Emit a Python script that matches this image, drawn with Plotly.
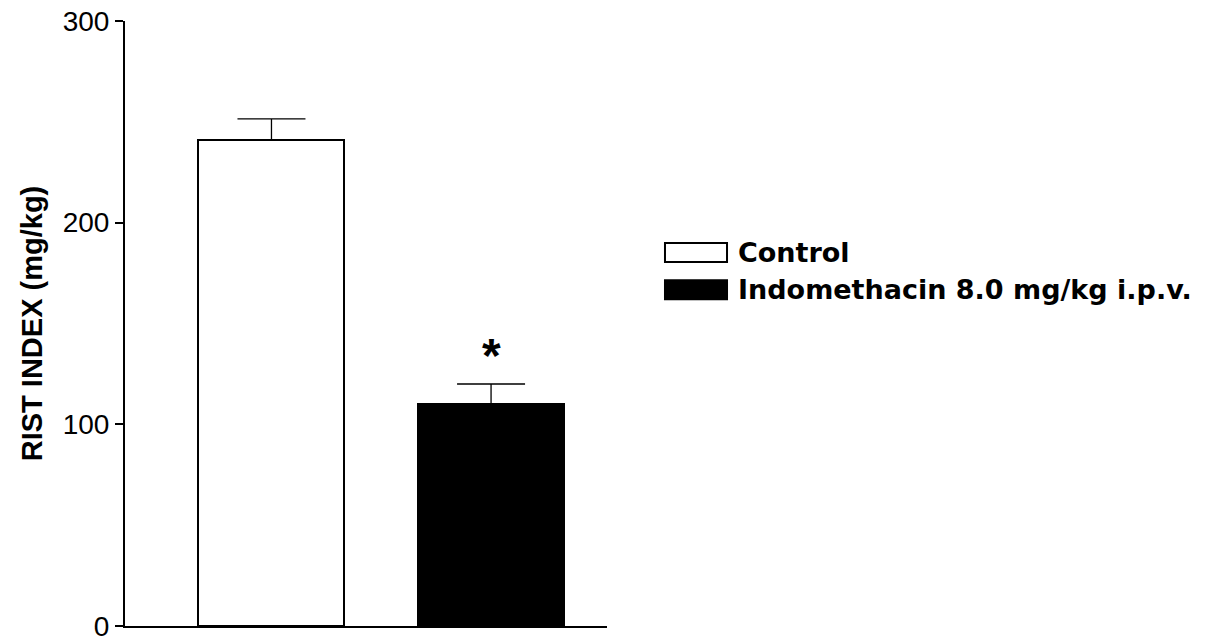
import plotly.graph_objects as go

# Group data (mean ± SEM)
groups = ["Control", "Indomethacin 8.0 mg/kg i.p.v."]
means = [241, 110]
sem = [10.5, 10]
fills = ["white", "black"]
significant = [False, True]
yticks = [0, 100, 200, 300]

FONT = "Arial, Liberation Sans, sans-serif"
LEG_FONT = "DejaVu Sans, Arial, sans-serif"

fig = go.Figure()
for i, (g, m, e, c) in enumerate(zip(groups, means, sem, fills)):
    fig.add_trace(go.Bar(
        x=[i + 1], y=[m], name=g, width=0.665,
        marker=dict(color=c, line=dict(color="black", width=2)),
        error_y=dict(type="data", array=[e], symmetric=False, arrayminus=[0],
                     color="black", thickness=1.3, width=34),
        showlegend=False,
    ))
    if significant[i]:
        fig.add_annotation(x=i + 1, y=m + e + 14, text="<b>*</b>", showarrow=False,
                           yanchor="middle", font=dict(family=FONT, size=48, color="black"))

# Legend drawn as boxes with labels to the right of the plot
leg_y = [0.6174, 0.5558]
for g, c, yy in zip(groups, fills, leg_y):
    fig.add_shape(type="rect", xref="paper", yref="paper",
                  x0=1.1203, x1=1.249, y0=yy - 0.0156, y1=yy + 0.0156,
                  fillcolor=c, line=dict(color="black", width=2))
    fig.add_annotation(xref="paper", yref="paper", x=1.268, y=yy, text="<b>" + g + "</b>",
                       showarrow=False, xanchor="left", yanchor="middle",
                       font=dict(family=LEG_FONT, size=27, color="black"))

fig.update_layout(
    width=1215, height=643,
    margin=dict(l=125, r=608, t=21, b=17),
    plot_bgcolor="white", paper_bgcolor="white",
    bargap=0,
    font=dict(family=FONT, color="black"),
)
fig.update_xaxes(range=[0.333, 2.528], showticklabels=False, ticks="",
                 showgrid=False, zeroline=False, showline=True,
                 linecolor="black", linewidth=2, automargin=False)
fig.update_yaxes(range=[0, 300], tickvals=yticks, ticks="outside", ticklen=8,
                 tickwidth=2, tickcolor="black", showgrid=False, zeroline=False,
                 showline=True, linecolor="black", linewidth=2,
                 ticklabeloverflow="allow", automargin=False,
                 tickfont=dict(family=FONT, size=28, color="black"),
                 title=dict(text="<b>RIST INDEX (mg/kg)</b>", standoff=12,
                            font=dict(family=FONT, size=29, color="black")))

fig.write_html("out.html")
